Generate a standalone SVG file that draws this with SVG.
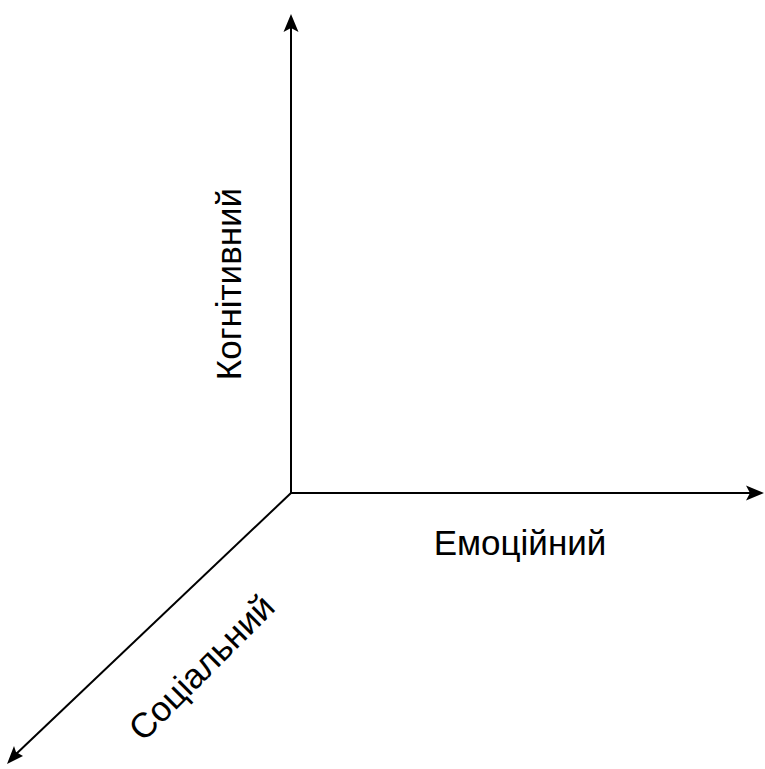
<svg xmlns="http://www.w3.org/2000/svg" width="765" height="769" viewBox="0 0 765 769">
<style>
.ax{stroke:#000;stroke-width:2;fill:none}
.lbl{font-family:"Liberation Sans",Arial,Helvetica,sans-serif;font-size:35px;fill:#000;text-anchor:middle}
.ah{fill:#000}
</style>
<rect width="765" height="769" fill="#fff"/>
<g id="connectors">
<line class="ax" x1="291" y1="493" x2="291" y2="24"/>
<line class="ax" x1="291" y1="493" x2="755" y2="493"/>
<line class="ax" x1="291" y1="493" x2="14" y2="756"/>
<path class="ah" d="M291,14 L298.5,32 L291,28 L283.5,32 Z"/>
<path class="ah" d="M764,493 L746,500.5 L750,493 L746,485.5 Z"/>
<path class="ah" d="M7,764 L14,746 L16,752 L23,756 Z"/>
</g>
<g id="kognityvnyi">
<text class="lbl" transform="translate(241,284) rotate(-90)">Когнітивний</text>
</g>
<g id="emotsiinyi">
<text class="lbl" x="520" y="555">Емоційний</text>
</g>
<g id="sotsialnyi">
<text class="lbl" transform="translate(210,676) rotate(-45)">Соціальний</text>
</g>
</svg>
